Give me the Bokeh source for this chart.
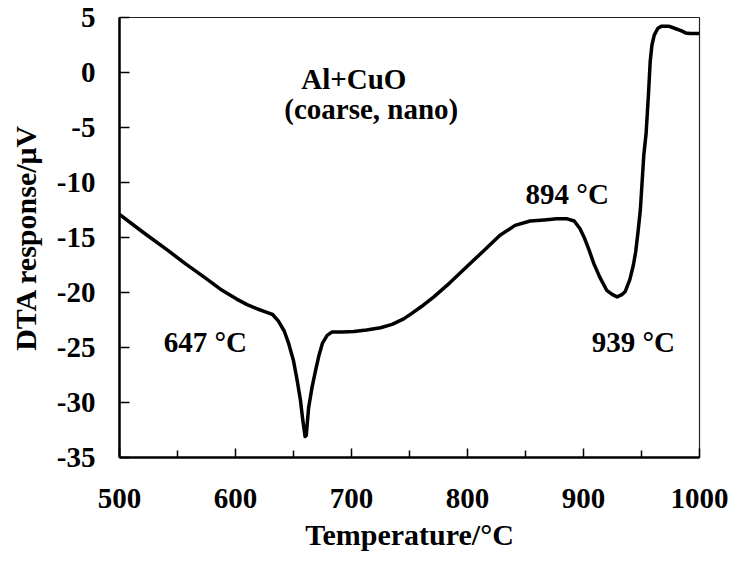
from bokeh.plotting import figure
from bokeh.models import FixedTicker
from bokeh.core.properties import value
from bokeh.embed import file_html
from bokeh.resources import INLINE

# ---- data ----
temperature = [500, 520, 542, 557, 573, 587, 601, 610, 619, 627, 632, 637, 642, 646,
               650, 653, 656, 658, 660, 661, 663, 666, 669, 672, 675, 679, 683, 692,
               702, 713, 725, 735, 745, 752, 760, 771, 785, 800, 814, 828, 841, 854,
               866, 877, 886, 892, 897, 901, 905, 909, 914, 920, 925, 929, 933, 936,
               940, 943, 945, 947, 949, 950.5, 952, 954, 956, 957.5, 959, 961, 964,
               967, 974, 979, 984, 988, 992, 1000]
dta = [-12.9, -14.5, -16.2, -17.4, -18.6, -19.7, -20.6, -21.1, -21.5, -21.8, -22.0,
       -22.6, -23.5, -24.7, -26.2, -27.9, -29.8, -31.6, -33.1, -33.0, -30.5, -28.6,
       -27.1, -25.7, -24.6, -23.9, -23.6, -23.6, -23.55, -23.4, -23.2, -22.9, -22.4,
       -21.9, -21.3, -20.4, -19.1, -17.6, -16.2, -14.8, -13.9, -13.5, -13.4, -13.3,
       -13.3, -13.5, -14.2, -15.1, -16.2, -17.4, -18.6, -19.8, -20.2, -20.4, -20.2,
       -19.9, -18.8, -17.5, -16.3, -14.5, -12.5, -10.0, -7.5, -5.5, -2.0, 1.0, 2.5,
       3.4, 4.0, 4.2, 4.2, 4.0, 3.8, 3.6, 3.55, 3.55]

x_ticks = [500, 600, 700, 800, 900, 1000]
x_minor = [550, 650, 750, 850, 950]
y_ticks = [-35, -30, -25, -20, -15, -10, -5, 0, 5]

note_x = [574, 886, 943, 702, 717]
note_y = [-24.5, -11.0, -24.5, -0.6, -3.3]
note_text = ["647 °C", "894 °C", "939 °C", "Al+CuO", "(coarse, nano)"]

FONT = "Liberation Serif"

p = figure(frame_width=580, frame_height=440,
           min_border_left=119, min_border_right=35,
           min_border_top=17, min_border_bottom=108,
           x_range=(500, 1000), y_range=(-35, 5),
           output_backend="svg", toolbar_location=None)

p.background_fill_color = "white"
p.border_fill_color = "white"
p.outline_line_color = "#222222"
p.outline_line_width = 1.2
p.xgrid.visible = False
p.ygrid.visible = False

p.line(temperature, dta, line_color="black", line_width=3.5, line_join="round")

for nx, ny, nt in zip(note_x, note_y, note_text):
    p.text(x=[nx], y=[ny], text=[nt], text_font=value(FONT),
           text_font_style="bold", text_font_size="29px", text_color="black",
           text_align="center", text_baseline="middle")

for ax in (p.xaxis[0], p.yaxis[0]):
    ax.axis_label_text_font = FONT
    ax.axis_label_text_font_style = "bold"
    ax.axis_label_text_font_size = "30px"
    ax.axis_label_text_color = "black"
    ax.major_label_text_font = FONT
    ax.major_label_text_font_style = "bold"
    ax.major_label_text_font_size = "29px"
    ax.major_label_text_color = "black"
    ax.axis_line_width = 2.5
    ax.axis_line_color = "black"
    ax.major_tick_out = 0
    ax.minor_tick_out = 0
    ax.major_tick_line_width = 1.5
    ax.major_tick_line_color = "black"

# x axis
xa = p.xaxis[0]
xa.ticker = FixedTicker(ticks=x_ticks, minor_ticks=x_minor)
xa.axis_label = "Temperature/°C"
xa.axis_label_standoff = 7
xa.major_label_standoff = 31
xa.major_tick_in = 9
xa.minor_tick_in = 7
xa.minor_tick_line_width = 1.5
xa.minor_tick_line_color = "black"

# y axis
ya = p.yaxis[0]
ya.ticker = FixedTicker(ticks=y_ticks)
ya.major_label_overrides = {t: str(t) for t in y_ticks}
ya.axis_label = "DTA response/μV"
ya.axis_label_standoff = 12
ya.major_label_standoff = 24
ya.major_tick_in = 10
ya.minor_tick_line_color = None

open("out.html", "w").write(file_html(p, INLINE))
